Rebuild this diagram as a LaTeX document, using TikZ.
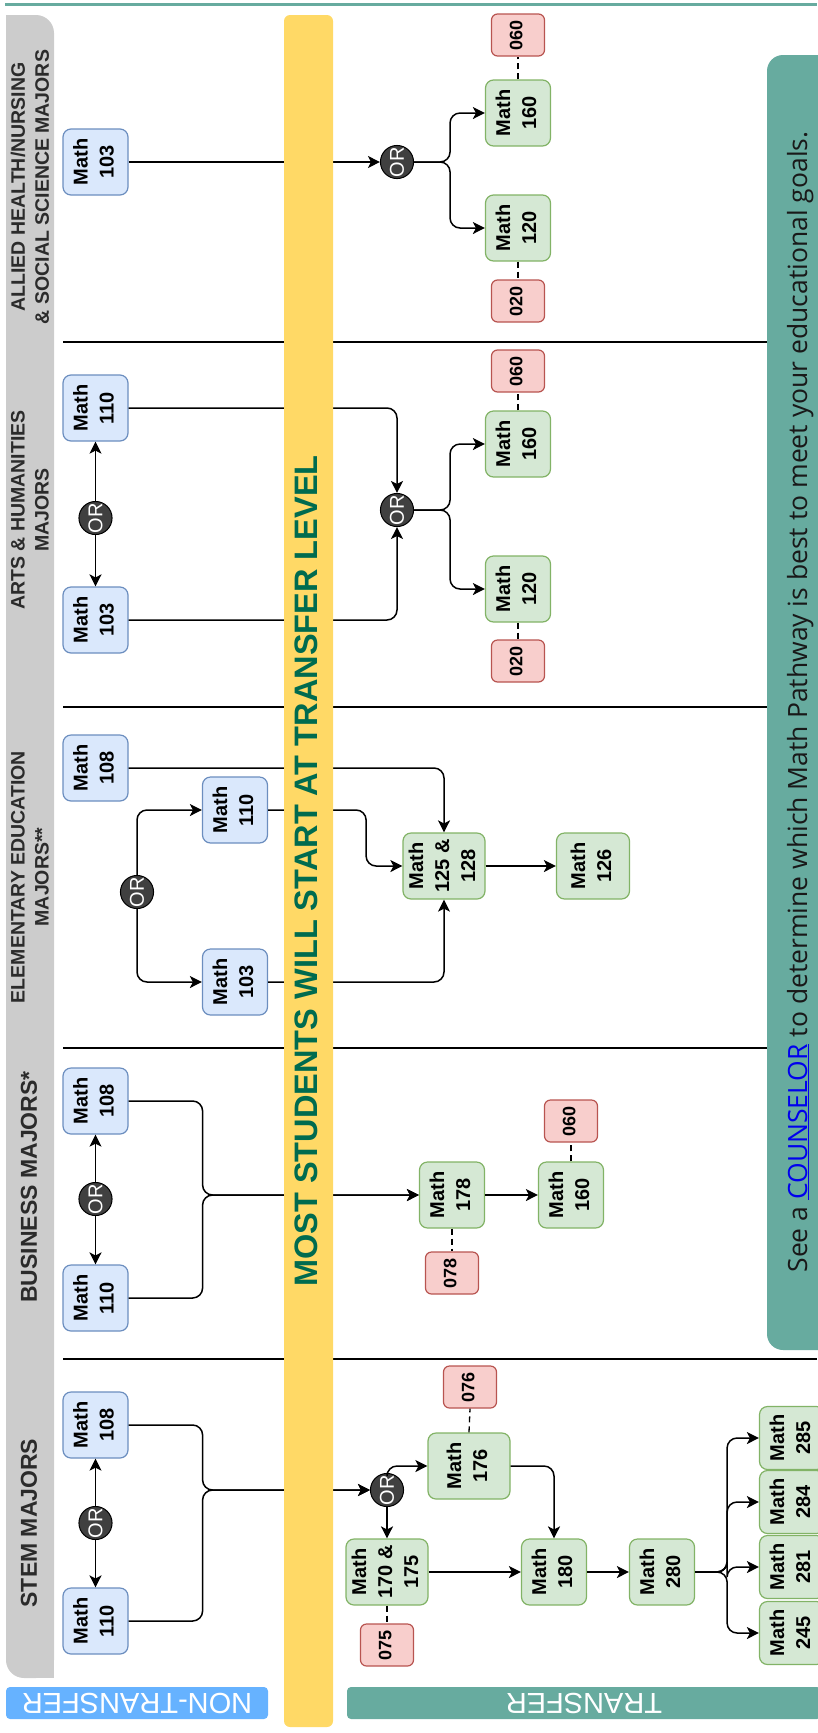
\documentclass[tikz,border=0pt]{standalone}
\usepackage{fontspec}
\setmainfont{Liberation Sans}
\newfontfamily\osans{Open Sans}
\usetikzlibrary{arrows.meta}
\definecolor{ntfill}{HTML}{DAE8FC}
\definecolor{ntline}{HTML}{6C8EBF}
\definecolor{trfill}{HTML}{D5E8D4}
\definecolor{trline}{HTML}{82B366}
\definecolor{devfill}{HTML}{F8CECC}
\definecolor{devline}{HTML}{B85450}
\definecolor{orgray}{HTML}{404040}
\definecolor{lanegray}{HTML}{CCCCCC}
\definecolor{headtext}{HTML}{2B2B2B}
\definecolor{baryellow}{HTML}{FFD966}
\definecolor{bartext}{HTML}{006B4F}
\definecolor{pathteal}{HTML}{67AB9F}
\definecolor{ntblue}{HTML}{66B2FF}
\definecolor{linkblue}{HTML}{0000EE}
\tikzset{
  course/.style = {rectangle, rounded corners=8pt, line width=1.2pt,
    inner sep=2pt, minimum width=65pt, minimum height=66pt,
    font=\bfseries\fontsize{20}{26}\selectfont},
  ntbox/.style = {course, draw=ntline, fill=ntfill},% non transfer course
  trbox/.style = {course, draw=trline, fill=trfill},% transfer course
  devbox/.style = {rectangle, rounded corners=6pt, line width=1.2pt,
    draw=devline, fill=devfill, minimum width=53pt, minimum height=42pt,
    font=\bfseries\fontsize{18}{22}\selectfont},% prerequisite
  ornode/.style = {circle, draw=black, fill=orgray, text=white,
    line width=1pt, minimum size=33pt, inner sep=0pt,
    font=\fontsize{20}{20}\selectfont},
  lanehead/.style = {rotate=90, align=center, text=headtext,
    font=\bfseries\fontsize{19.5}{24}\selectfont},
  flow/.style = {->, line width=1.5pt, rounded corners=10pt},
  prereq/.style = {line width=1.3pt, dash pattern=on 6pt off 4pt},
  lanesep/.style = {line width=1.5pt}
}
\newcommand{\vt}[1]{\rotatebox{90}{\begin{tabular}{@{}c@{}}#1\end{tabular}}}

\begin{document}
\begin{tikzpicture}[x=1pt, y=-1pt, >={Stealth[length=12pt,width=12pt,inset=3pt]}]
\useasboundingbox (0,0) rectangle (817,1733);
% frame
\draw[pathteal, line width=3pt] (5,4) -- (817,4);
\fill[lanegray, rounded corners=18pt] (6,15) rectangle (54,1678);
\fill[lanegray] (6,15) rectangle (30,40);
\fill[lanegray] (30,1650) rectangle (54,1678);
\draw[lanesep] (63,342) -- (767,342);
\draw[lanesep] (63,707) -- (767,707);
\draw[lanesep] (63,1048) -- (767,1048);
\draw[lanesep] (63,1359) -- (817,1359);
\fill[pathteal, rounded corners=16pt] (767,55) rectangle (850,1350);
\node[rotate=90, anchor=base, font=\osans\fontsize{26.5}{30}\selectfont, text=black!90]
  (counsel) at (807,702)
  {See a \textcolor{linkblue}{\underline{COUNSELOR}} to determine which Math Pathway is best to meet your educational goals.};

% lane titles
\node[lanehead] (ahead) at (30,187) {ALLIED HEALTH/NURSING\\\& SOCIAL SCIENCE MAJORS};
\node[lanehead] (hhead) at (30,510) {ARTS \& HUMANITIES\\MAJORS};
\node[lanehead] (ehead) at (30,877) {ELEMENTARY EDUCATION\\MAJORS**};
\node[lanehead, font=\bfseries\fontsize{23}{26}\selectfont] (bhead) at (29,1187) {BUSINESS MAJORS*};
\node[lanehead, font=\bfseries\fontsize{23}{26}\selectfont] (shead) at (29,1523) {STEM MAJORS};

% allied health
\node[ntbox] (a103) at (95.5,162) {\vt{Math\\103}};
\node[ornode] (aor) at (397,162) {\rotatebox{90}{OR}};
\node[trbox] (a160) at (518,113) {\vt{Math\\160}};
\node[trbox] (a120) at (518,228) {\vt{Math\\120}};
\node[devbox] (a060) at (518,35) {\vt{060}};
\node[devbox] (a020) at (518,301) {\vt{020}};

% arts
\node[ntbox] (h110) at (95.5,408) {\vt{Math\\110}};
\node[ntbox] (h103) at (95.5,620) {\vt{Math\\103}};
\node[ornode] (hxor) at (95.5,518) {\rotatebox{90}{OR}};
\node[ornode] (hor) at (397,510) {\rotatebox{90}{OR}};
\node[trbox] (h160) at (518,444) {\vt{Math\\160}};
\node[trbox] (h120) at (518,589) {\vt{Math\\120}};
\node[devbox] (h060) at (518,371) {\vt{060}};
\node[devbox] (h020) at (518,661) {\vt{020}};

% elementary education
\node[ntbox] (e108) at (95.5,768) {\vt{Math\\108}};
\node[ntbox] (e110) at (235,810) {\vt{Math\\110}};
\node[ntbox] (e103) at (235,982) {\vt{Math\\103}};
\node[ornode] (eor) at (137,892) {\rotatebox{90}{OR}};
\node[trbox, minimum width=82pt] (e125) at (444,866) {\vt{Math\\125 \&\\128}};
\node[trbox, minimum width=73pt] (e126) at (593,866) {\vt{Math\\126}};

% business
\node[ntbox] (b108) at (95.5,1101) {\vt{Math\\108}};
\node[ntbox] (b110) at (95.5,1298) {\vt{Math\\110}};
\node[ornode] (bor) at (95.5,1199) {\rotatebox{90}{OR}};
\node[trbox] (b178) at (452,1195) {\vt{Math\\178}};
\node[trbox] (b160) at (571,1195) {\vt{Math\\160}};
\node[devbox] (b060) at (571,1121) {\vt{060}};
\node[devbox] (b078) at (452,1273) {\vt{078}};

% stem
\node[ntbox] (s108) at (95.5,1425) {\vt{Math\\108}};
\node[ntbox] (s110) at (95.5,1621) {\vt{Math\\110}};
\node[ornode] (sxor) at (95.5,1523) {\rotatebox{90}{OR}};
\node[ornode] (sor) at (387,1490) {\rotatebox{90}{OR}};
\node[trbox, minimum width=82pt] (s176) at (469,1466) {\vt{Math\\176}};
\node[devbox] (s076) at (470,1387) {\vt{076}};
\node[trbox, minimum width=82pt] (s170) at (387,1572) {\vt{Math\\170 \&\\175}};
\node[devbox] (s075) at (387,1645) {\vt{075}};
\node[trbox] (s180) at (554,1572) {\vt{Math\\180}};
\node[trbox] (s280) at (662,1572) {\vt{Math\\280}};
\node[trbox, minimum height=63pt] (s285) at (792,1438) {\vt{Math\\285}};
\node[trbox, minimum height=63pt] (s284) at (792,1502) {\vt{Math\\284}};
\node[trbox, minimum height=63pt] (s281) at (792,1567) {\vt{Math\\281}};
\node[trbox, minimum height=63pt] (s245) at (792,1633) {\vt{Math\\245}};

% connectors
\draw[flow] (a103.east) -- (aor.west);
\draw[flow] (aor.east) -- ++(36,0) |- (a160.west);
\draw[flow] (aor.east) -- ++(36,0) |- (a120.west);
\draw[prereq] (a160.north) -- (a060.south);
\draw[prereq] (a120.south) -- (a020.north);

\draw[flow] (hxor.north) -- (h110.south);
\draw[flow] (hxor.south) -- (h103.north);
\draw[flow] (h110.east) -| (hor.north);
\draw[flow] (h103.east) -| (hor.south);
\draw[flow] (hor.east) -- ++(36,0) |- (h160.west);
\draw[flow] (hor.east) -- ++(36,0) |- (h120.west);
\draw[prereq] (h160.north) -- (h060.south);
\draw[prereq] (h120.south) -- (h020.north);

\draw[flow] (eor.north) |- (e110.west);
\draw[flow] (eor.south) |- (e103.west);
\draw[flow] (e108.east) -| (e125.north);
\draw[flow] (e110.east) -- ++(98,0) |- (e125.west);
\draw[flow] (e103.east) -| (e125.south);
\draw[flow] (e125.east) -- (e126.west);

\draw[flow] (bor.north) -- (b108.south);
\draw[flow] (bor.south) -- (b110.north);
\draw[flow] (b108.east) -- ++(74,0) |- (b178.west);
\draw[flow] (b110.east) -- ++(74,0) |- (b178.west);
\draw[flow] (b178.east) -- (b160.west);
\draw[prereq] (b160.north) -- (b060.south);
\draw[prereq] (b178.south) -- (b078.north);

\draw[flow] (sxor.north) -- (s108.south);
\draw[flow] (sxor.south) -- (s110.north);
\draw[flow] (s108.east) -- ++(74,0) |- (sor.west);
\draw[flow] (s110.east) -- ++(74,0) |- (sor.west);
\draw[flow] (sor.north) |- (s176.west);
\draw[flow] (sor.south) -- (s170.north);
\draw[flow] (s176.east) -| (s180.north);
\draw[flow] (s170.east) -- (s180.west);
\draw[flow] (s180.east) -- (s280.west);
\draw[flow] (s280.east) -- ++(32,0) |- (s285.west);
\draw[flow] (s280.east) -- ++(32,0) |- (s284.west);
\draw[flow] (s280.east) -- ++(32,0) |- (s281.west);
\draw[flow] (s280.east) -- ++(32,0) |- (s245.west);
\draw[prereq] (s176.north) -- (s076.south);
\draw[prereq] (s170.south) -- (s075.north);

% banner over the connectors
\node[fill=baryellow, rounded corners=6pt, minimum width=49pt, minimum height=1712pt,
  inner sep=0pt] (bar) at (308.5,871) {};
\node[rotate=90, text=bartext, font=\bfseries\fontsize{32.5}{36}\selectfont]
  (bartitle) at (306,871) {MOST STUDENTS WILL START AT TRANSFER LEVEL};

% bottom tags
\node[fill=ntblue, rounded corners=4pt, minimum width=262pt, minimum height=32pt,
  rotate=180, text=white, font=\fontsize{29}{30}\selectfont] (nttag) at (137,1703) {NON-TRANSFER};
\node[fill=pathteal, rounded corners=4pt, minimum width=474pt, minimum height=32pt,
  rotate=180, text=white, font=\fontsize{29}{30}\selectfont] (trtag) at (584,1703) {TRANSFER};
\end{tikzpicture}
\end{document}
